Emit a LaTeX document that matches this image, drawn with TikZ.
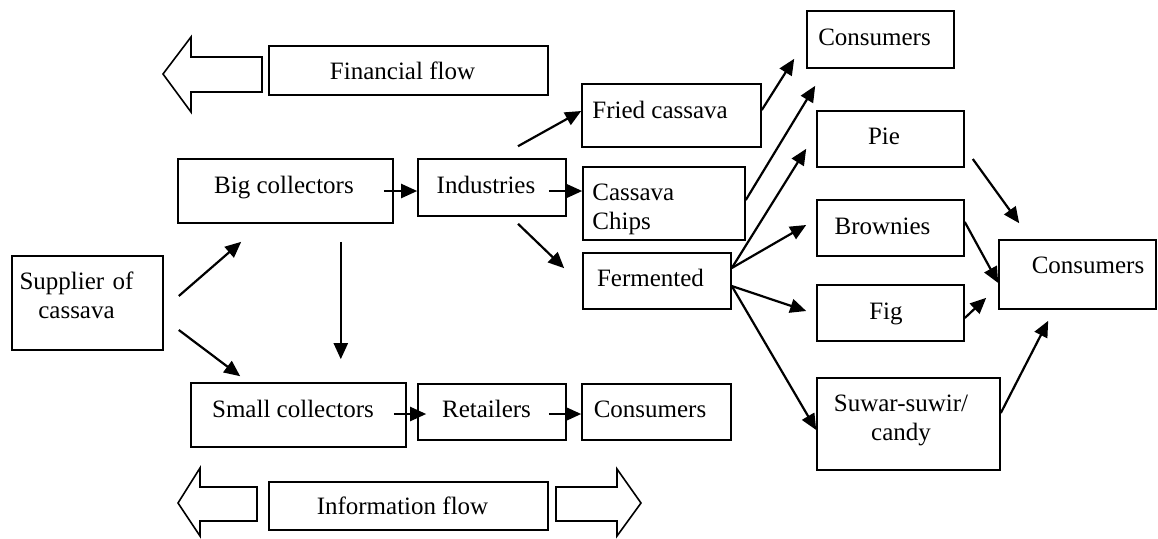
\documentclass[tikz,border=0pt]{standalone}
\usepackage{fontspec}
\setmainfont{Liberation Serif}
\usetikzlibrary{arrows.meta,fit}

\tikzset{
  box/.style={draw, line width=0.8pt, inner sep=0pt},
  txt/.style={font=\fontsize{12.5}{14.5}\selectfont, inner sep=0pt, anchor=base},
  flow/.style={-{Triangle[length=8pt,width=7pt]}, line width=1.1pt},
  blockarrow/.style={draw, line width=0.8pt, line join=miter}
}

\begin{document}
\begin{tikzpicture}[x=0.5pt,y=-0.5pt]
  \useasboundingbox (0,0) rectangle (1158,538);
  % boxes
  \node [box, fit={(12,256) (163,350)}] (supplier) {};
  \node [box, fit={(178,159) (393,223)}] (big) {};
  \node [box, fit={(191,383) (406,447)}] (small) {};
  \node [box, fit={(418,159) (566,216)}] (industries) {};
  \node [box, fit={(418,384) (566,440)}] (retailers) {};
  \node [box, fit={(582,384) (731,440)}] (cons_low) {};
  \node [box, fit={(582,84) (761,147)}] (fried) {};
  \node [box, fit={(583,167) (745,240)}] (chips) {};
  \node [box, fit={(583,253) (731,309)}] (fermented) {};
  \node [box, fit={(807,11) (954,68)}] (cons_top) {};
  \node [box, fit={(817,111) (964,167)}] (pie) {};
  \node [box, fit={(817,200) (964,256)}] (brownies) {};
  \node [box, fit={(817,285) (964,341)}] (fig) {};
  \node [box, fit={(817,378) (1000,470)}] (suwar) {};
  \node [box, fit={(999,240) (1156,309)}] (cons_right) {};
  \node [box, fit={(269,46) (548,95)}] (fin) {};
  \node [box, fit={(269,482) (548,530)}] (info) {};

  % texts
  \node [txt, text width=80pt, align=center] (supplier_t) at (76.5,289) {Supplier of\\cassava};
  \node [txt] (big_t) at (284,193) {Big collectors};
  \node [txt] (small_t) at (293,417) {Small collectors};
  \node [txt] (industries_t) at (486,193) {Industries};
  \node [txt] (retailers_t) at (486.5,417) {Retailers};
  \node [txt] (cons_low_t) at (650,417) {Consumers};
  \node [txt, anchor=base west] (fried_t) at (592,118) {Fried cassava};
  \node [txt, anchor=base west, text width=70pt, align=left] (chips_t) at (592,200) {Cassava\\Chips};
  \node [txt] (fermented_t) at (650.5,286) {Fermented};
  \node [txt] (cons_top_t) at (874.5,45) {Consumers};
  \node [txt] (pie_t) at (884,144) {Pie};
  \node [txt] (brownies_t) at (882.5,234) {Brownies};
  \node [txt] (fig_t) at (886,319) {Fig};
  \node [txt, text width=80pt, align=center] (suwar_t) at (901,411) {Suwar-suwir/\\candy};
  \node [txt] (cons_right_t) at (1088,273) {Consumers};
  \node [txt] (fin_t) at (402.5,79) {Financial flow};
  \node [txt] (info_t) at (402.5,514) {Information flow};

  % flow arrows
  \draw [blockarrow] (262,57) -- (191,57) -- (191,37) -- (163,74) -- (191,112) -- (191,92) -- (262,92) -- cycle;
  \draw [blockarrow] (257,487) -- (200,487) -- (200,468) -- (178,503) -- (200,536) -- (200,521) -- (257,521) -- cycle;
  \draw [blockarrow] (556,487) -- (617,487) -- (617,469) -- (641,503) -- (617,536) -- (617,521) -- (556,521) -- cycle;

  % connectors
  \path [flow]
    ([shift={(15,-7)}]supplier.east) edge ([shift={(64,18)}]big.south west)
    ([shift={(15,27)}]supplier.east) edge ([shift={(50,-6)}]small.north west)
    ([shift={(-53,18)}]big.south east) edge ([shift={(-66,-23)}]small.north east)
    ([shift={(-10,0)}]big.east) edge (industries.west |- big.east)
    ([shift={(-18,3.5)}]industries.east) edge (chips.west |- big.east)
    ([shift={(26,-12)}]industries.north) edge ([shift={(0,-4.5)}]fried.west)
    ([shift={(26,7)}]industries.south) edge ([shift={(-18,16)}]fermented.north west)
    ([shift={(0,-5.5)}]fried.east) edge ([shift={(-12,-10)}]cons_top.south west)
    ([shift={(0,-3.5)}]chips.east) edge ([shift={(9,17)}]cons_top.south west)
    ([shift={(0,-13)}]fermented.east) edge ([shift={(-10,-19)}]pie.south west)
    ([shift={(0,-13)}]fermented.east) edge ([shift={(-10,-3)}]brownies.west)
    ([shift={(0,5)}]fermented.east) edge ([shift={(-10,-2)}]fig.west)
    ([shift={(0,5)}]fermented.east) edge ([shift={(0,6)}]suwar.west)
    ([shift={(8,20)}]pie.east) edge ([shift={(21,-16)}]cons_right.north west)
    ([shift={(0,-6)}]brownies.east) edge ([shift={(0,8.5)}]cons_right.west)
    ([shift={(0,5)}]fig.east) edge ([shift={(-12,-12)}]cons_right.south west)
    ([shift={(0,-11)}]suwar.east) edge ([shift={(50,11)}]cons_right.south west)
    ([shift={(-13,-1)}]small.east) edge ([shift={(9,2)}]retailers.west)
    ([shift={(-18,2)}]retailers.east) edge ([shift={(0,2)}]cons_low.west);
\end{tikzpicture}
\end{document}
